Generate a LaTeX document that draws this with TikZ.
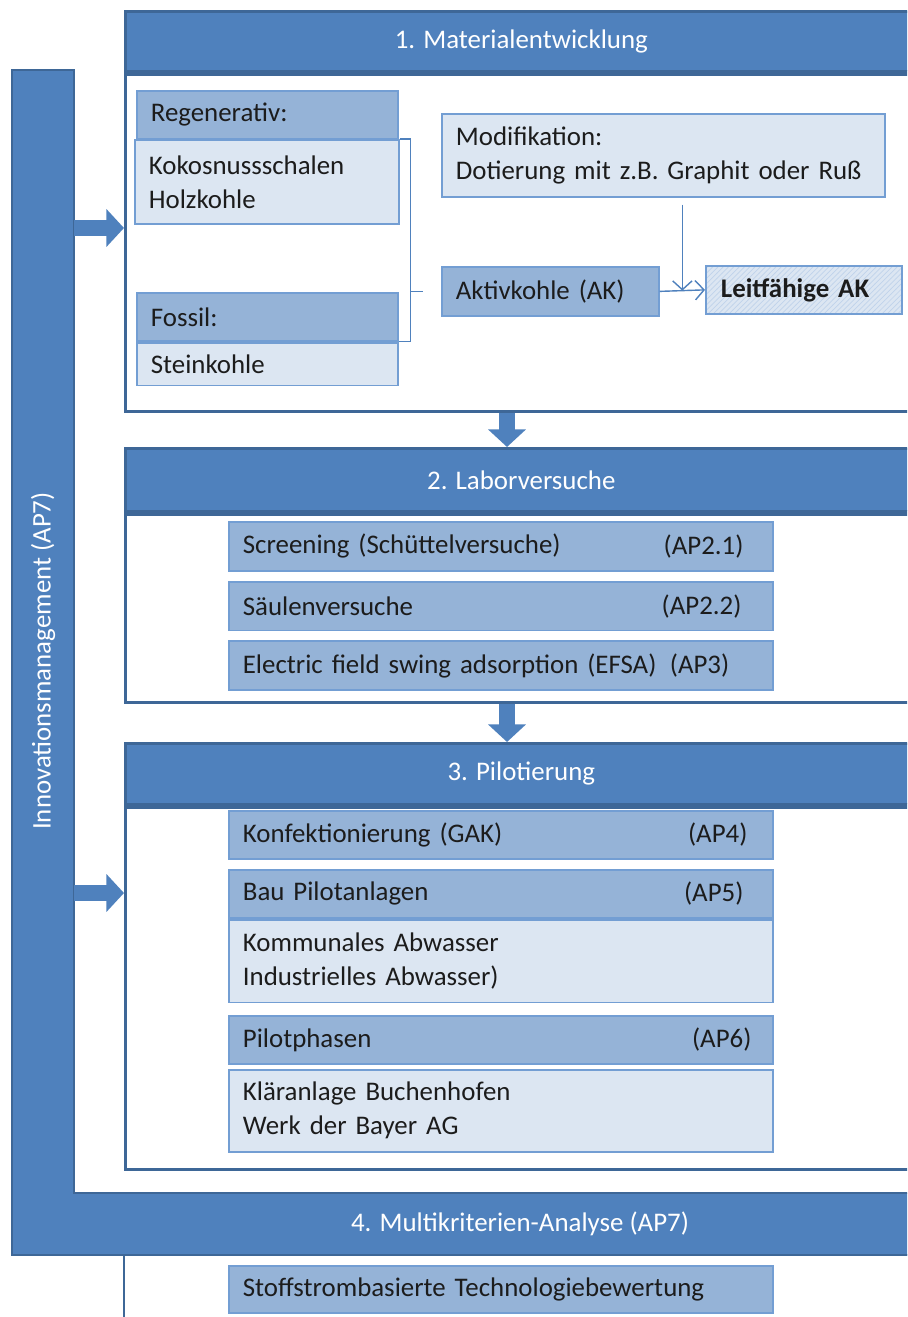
\documentclass[tikz,border=0pt]{standalone}
\usepackage{fontspec}
\setmainfont{Carlito}
\usetikzlibrary{positioning,arrows.meta,patterns,calc}
\definecolor{hdrblue}{HTML}{4F81BD}
\definecolor{hdrline}{HTML}{3E6797}
\definecolor{midblue}{HTML}{95B3D7}
\definecolor{liteblue}{HTML}{DCE6F2}
\definecolor{boxline}{HTML}{739ED3}
\definecolor{textblack}{HTML}{1C1C1C}
\tikzset{
  hdrbar/.style={fill=hdrblue, draw=hdrline, line width=1.6pt, text=white,
    anchor=north west, minimum width=15.84cm},
  secbody/.style={fill=white, draw=hdrline, line width=1.6pt, minimum width=15.84cm},
  txtbox/.style={draw=boxline, line width=1pt, inner xsep=0.28cm, inner ysep=0pt,
    text=textblack, align=left},
  medbox/.style={txtbox, fill=midblue},
  litebox/.style={txtbox, fill=liteblue},
  thinline/.style={draw=hdrblue, line width=0.8pt},
  thinarrow/.style={thinline, -{Straight Barb[length=5pt,width=11pt]}},
  blockarrow/.style={draw=hdrblue, line width=9pt, -{Triangle[length=10pt,width=21pt]}}
}
\begin{document}
\begin{tikzpicture}[x=0.02cm, y=-0.02cm, font=\fontsize{15.3pt}{19.3pt}\selectfont]
\useasboundingbox (0,0) rectangle (907,1317);
\clip (0,0) rectangle (907,1317);

% 4. Multikriterien-Analyse
\draw[fill=white, draw=hdrline, line width=1.6pt] (124,1255) rectangle (916,1340);
\draw[fill=hdrblue, draw=hdrline, line width=1.6pt]
  (12,70) -- (74,70) -- (74,1193) -- (916,1193) -- (916,1255) -- (12,1255) -- cycle;
\node[text=white, rotate=90] (innov) at (43,661) {Innovationsmanagement (AP7)};
\node[text=white] (multi) at (520,1224) {4. Multikriterien-Analyse (AP7)};
\node[medbox, anchor=north west, text width=10.32cm, minimum height=0.94cm] (stoff) at (228,1265)
  {Stoffstrombasierte Technologiebewertung};

% 1. Materialentwicklung
\node[hdrbar, minimum height=1.2cm] (mathdr) at (124,10) {1. Materialentwicklung};
\node[secbody, minimum height=6.74cm, below=0pt of mathdr] (matbody) {};
\node[medbox, anchor=north west, text width=4.66cm, minimum height=0.96cm] (regen) at (136,90) {Regenerativ:};
\node[litebox, anchor=north west, text width=4.72cm, minimum height=1.68cm] (kokos) at (134,139)
  {Kokosnussschalen\\Holzkohle};
\node[medbox, anchor=north west, text width=4.66cm, minimum height=0.96cm] (fossil) at (136,292) {Fossil:};
\node[litebox, text width=4.66cm, minimum height=0.86cm, below=0pt of fossil] (stein) {Steinkohle};
\node[litebox, anchor=north west, text width=8.30cm, minimum height=1.66cm] (modif) at (441,113)
  {Modifikation:\\Dotierung mit z.B. Graphit oder Ruß};
\node[medbox, anchor=north west, text width=3.78cm, minimum height=0.98cm] (aktiv) at (441,266) {Aktivkohle (AK)};
\node[litebox, preaction={fill=liteblue}, pattern=north east lines, pattern color=boxline!45,
  anchor=north west, inner xsep=0.3cm, text width=3.32cm, minimum height=0.96cm] (leitf) at (705,265)
  {\bfseries Leitfähige AK};
\draw[thinline] (kokos.north east) -- ++(11,0) coordinate (brk) |- (fossil.south east);
\draw[thinline] (brk |- aktiv.west) -- ++(12,0);
\coordinate (mid) at ($(aktiv.east)!0.5!(leitf.west)$);
\draw[thinarrow] (aktiv.east) -- (leitf.west);
\draw[thinarrow] ($(modif.south -| mid)+(0,7)$) -- (mid);

% 2. Laborversuche
\node[hdrbar, minimum height=1.26cm] (labhdr) at (124,447) {2. Laborversuche};
\node[secbody, minimum height=3.76cm, below=0pt of labhdr] (labbody) {};
\node[medbox, anchor=north west, text width=10.32cm, minimum height=0.98cm] (screen) at (228,521)
  {Screening (Schüttelversuche)};
\node[medbox, text width=10.32cm, minimum height=0.98cm, below=0.18cm of screen] (saeule) {Säulenversuche};
\node[medbox, text width=10.32cm, minimum height=0.98cm, below=0.18cm of saeule] (efsa)
  {Electric field swing adsorption (EFSA)\enspace(AP3)};
\node[anchor=east, text=textblack] (ap21) at ([xshift=-0.48cm]screen.east) {(AP2.1)};
\node[anchor=east, text=textblack] (ap22) at ([xshift=-0.52cm]saeule.east) {(AP2.2)};

% 3. Pilotierung
\node[hdrbar, minimum height=1.22cm] (pilhdr) at (124,742) {3. Pilotierung};
\node[secbody, minimum height=7.24cm, below=0pt of pilhdr] (pilbody) {};
\node[medbox, anchor=north west, text width=10.32cm, minimum height=0.96cm] (konf) at (228,810)
  {Konfektionierung (GAK)};
\node[medbox, anchor=north west, text width=10.32cm, minimum height=0.96cm] (bau) at (228,869)
  {Bau Pilotanlagen};
\node[litebox, text width=10.32cm, minimum height=1.66cm, below=0pt of bau] (abw)
  {Kommunales Abwasser\\Industrielles Abwasser)};
\node[medbox, anchor=north west, text width=10.32cm, minimum height=0.96cm] (pilot) at (228,1015)
  {Pilotphasen};
\node[litebox, text width=10.32cm, minimum height=1.64cm, below=0.08cm of pilot] (klaer)
  {Kläranlage Buchenhofen\\Werk der Bayer AG};
\node[anchor=east, text=textblack] (ap4) at ([xshift=-0.4cm]konf.east) {(AP4)};
\node[anchor=east, text=textblack] (ap5) at ([xshift=-0.48cm]bau.east) {(AP5)};
\node[anchor=east, text=textblack] (ap6) at ([xshift=-0.32cm]pilot.east) {(AP6)};

% Pfeile
\coordinate (dx) at (507,0);
\draw[blockarrow] (matbody.south -| dx) -- (labhdr.north -| dx);
\draw[blockarrow] (labbody.south -| dx) -- (pilhdr.north -| dx);
\coordinate (s1) at (74,228);
\coordinate (s3) at (74,893);
\draw[blockarrow] (s1) -- (matbody.west |- s1);
\draw[blockarrow] (s3) -- (pilbody.west |- s3);
\end{tikzpicture}
\end{document}
